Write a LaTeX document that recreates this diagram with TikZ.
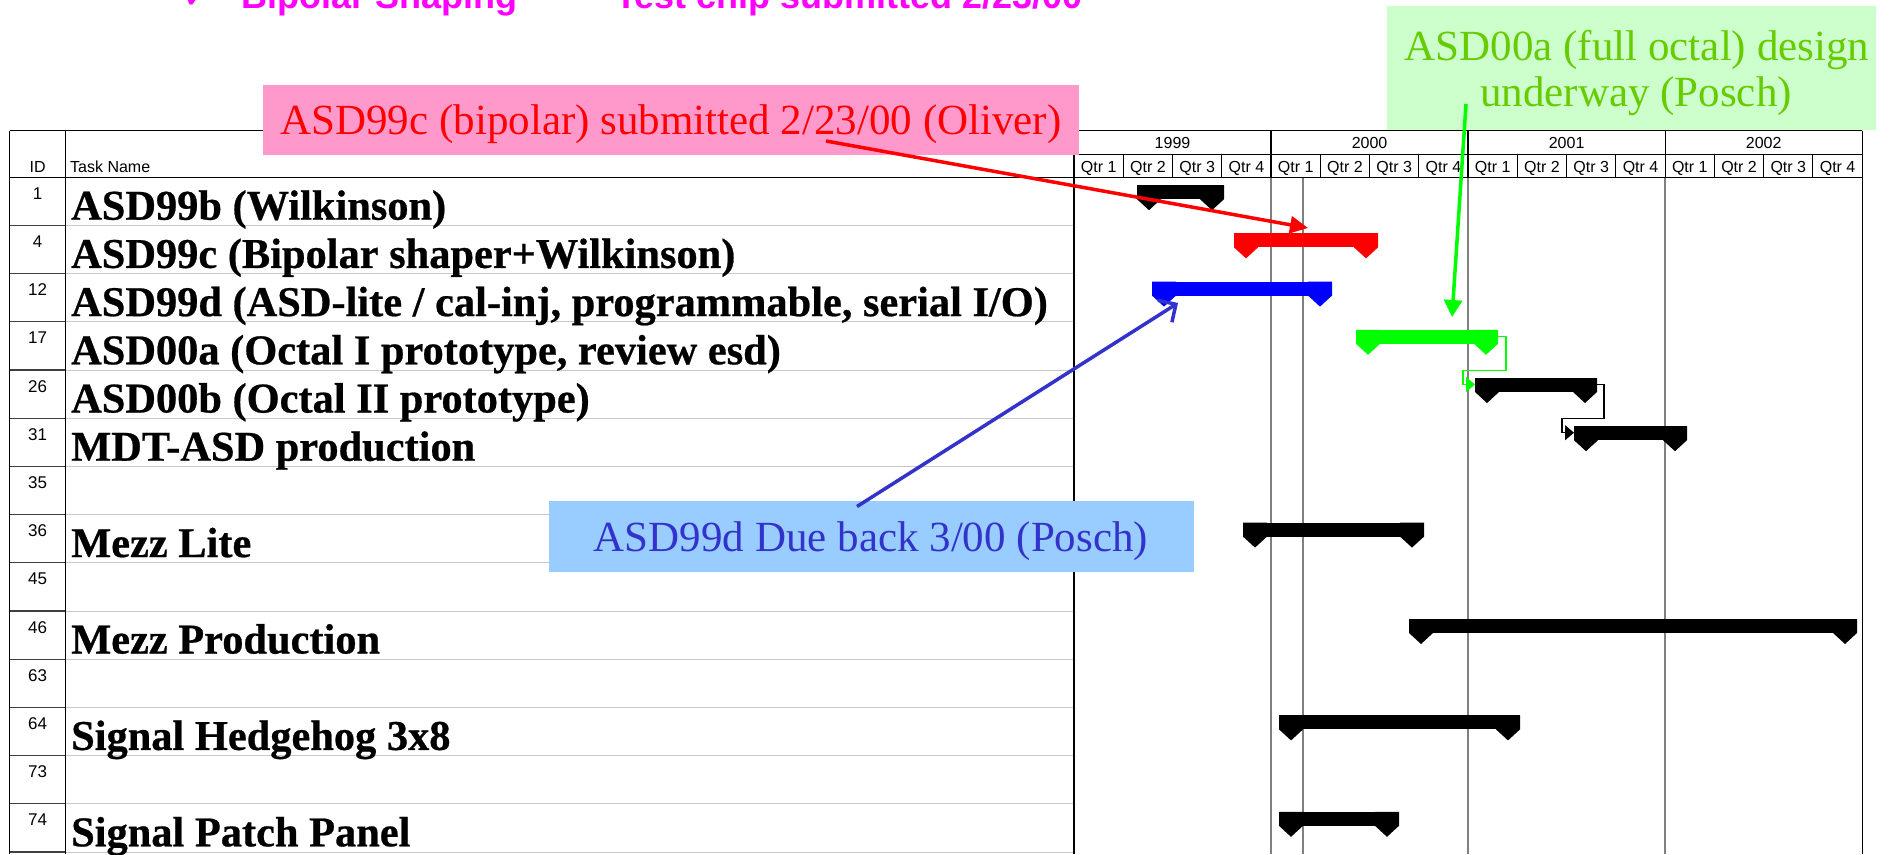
\documentclass[tikz,border=0pt]{standalone}
\usepackage{fontspec}
\setmainfont{Liberation Serif}
\newfontfamily\arialf{Liberation Sans}
\newfontfamily\symf{DejaVu Sans}
\newfontfamily\taskf[BoldFeatures={FakeBold=0.6}]{Liberation Serif}
\usetikzlibrary{arrows.meta,calc}

\definecolor{pinkfill}{HTML}{FF99CC}
\definecolor{greenfill}{HTML}{CCFFCC}
\definecolor{greentext}{HTML}{66CC00}
\definecolor{bluefill}{HTML}{99CCFF}
\definecolor{bluetext}{HTML}{3333CC}
\definecolor{gridgray}{HTML}{808080}
\definecolor{rowgray}{HTML}{C8C8C8}
\definecolor{darkline}{HTML}{404040}
\definecolor{gred}{HTML}{FF0000}
\definecolor{gblue}{HTML}{0000FF}
\definecolor{ggreen}{HTML}{00FF00}
\definecolor{gblack}{HTML}{000000}
\definecolor{headmag}{HTML}{FF00FF}

% Gantt bar with a down-pointing marker at each end.
% #1 row, #2 start x, #3 end x, #4 colour, #5 name
\newcommand\ganttbar[5]{%
  \pgfmathsetmacro\gbT{177.2+48.2*(#1-1)+8}%
  \pgfmathsetmacro\gbB{\gbT+14}%
  \pgfmathsetmacro\gbP{\gbT+25}%
  \pgfmathsetmacro\gbM{\gbT+6.5}%
  \fill[#4] (#2,\gbT) rectangle (#3,\gbB);
  \fill[#4] (#2,\gbT) -- ({#2+24},\gbT) -- ({#2+24},\gbB) -- ({#2+12},\gbP) -- (#2,\gbB) -- cycle;
  \fill[#4] ({#3-24},\gbT) -- (#3,\gbT) -- (#3,\gbB) -- ({#3-12},\gbP) -- ({#3-24},\gbB) -- cycle;
  \coordinate (#5-s) at (#2,\gbM);
  \coordinate (#5-e) at (#3,\gbM);
}

\begin{document}
\begin{tikzpicture}[x=1pt,y=-1pt,
  idtext/.style={font=\arialf\fontsize{17}{20}\selectfont, anchor=base, inner sep=0pt},
  hdrtext/.style={font=\arialf\fontsize{16}{19}\selectfont, anchor=base, inner sep=0pt},
  tasktext/.style={font=\taskf\fontsize{42.4}{48}\selectfont\bfseries, anchor=base west, inner sep=0pt},
  calltext/.style={font=\fontsize{43}{46}\selectfont, inner sep=0pt, outer sep=0pt},
  headline/.style={font=\arialf\bfseries\fontsize{36}{40}\selectfont, text=headmag, anchor=base west, inner sep=0pt},
  frame/.style={line width=1.3pt, draw=gblack},
  dark/.style={line width=1.2pt, draw=darkline},
  grid/.style={line width=1.5pt, draw=gridgray},
  rowline/.style={line width=1pt, draw=rowgray},
  callarrow/.style={line width=3.5pt},
  link/.style={line width=1.2pt},
]
\useasboundingbox (0,0) rectangle (1890,854);
\clip (0,0) rectangle (1890,854);

% heading line running off the top edge
\node[headline] (hcheck) at (182,8) {\symf ✓};
\node[headline] (hshape) at (241,8) {Bipolar Shaping};
\node[headline] (hchip) at (615,8) {Test chip submitted 2/23/00};

% row separators
\foreach \k in {1,...,14} {
  \draw[rowline] (65.7,{177.2+48.2*\k}) -- (1074,{177.2+48.2*\k});
  \draw[dark] (9.6,{177.2+48.2*\k}) -- (65.7,{177.2+48.2*\k});
}

% timescale grid in the chart body
\foreach \x in {1271.05,1468.1,1665.15} \draw[grid] (\x,177.2) -- (\x,854);
\draw[grid] (1303,177.2) -- (1303,854);

% table frame and header
\draw[frame] (9.6,130.5) -- (1862.2,130.5);
\draw[frame] (9.6,177.2) -- (1862.2,177.2);
\draw[frame] (1074,154.3) -- (1862.2,154.3);
\draw[frame] (9.6,130.5) -- (9.6,854);
\draw[frame] (65.7,130.5) -- (65.7,854);
\draw[frame] (1074,130.5) -- (1074,854);
\draw[frame] (1862.2,130.5) -- (1862.2,854);
\foreach \x in {1271.05,1468.1,1665.15} \draw[frame] (\x,130.5) -- (\x,177.2);
\foreach \k in {1,...,15} {
  \pgfmathtruncatemacro\qm{mod(\k,4)}
  \ifnum\qm>0 \draw[frame, line width=1pt] ({1074+49.2625*\k},154.3) -- ({1074+49.2625*\k},177.2); \fi
}

\node[hdrtext] (hid) at (37.6,172) {ID};
\node[hdrtext, anchor=base west] (hname) at (70,172) {Task Name};
\foreach \y [count=\j from 0] in {1999,2000,2001,2002}
  \node[hdrtext] (yr\y) at ({1074+197.05*(\j+0.5)},148) {\y};
\foreach \k in {0,...,15} {
  \pgfmathtruncatemacro\qn{mod(\k,4)+1}
  \node[hdrtext] (q\k) at ({1074+49.2625*(\k+0.5)},172) {Qtr \qn};
}

% IDs and task names
\foreach \i/\n in {1/1,2/4,3/12,4/17,5/26,6/31,7/35,8/36,9/45,10/46,11/63,12/64,13/73,14/74}
  \node[idtext] (id\n) at (37.6,{177.2+48.2*(\i-1)+22}) {\n};

\foreach \i/\t in {1/{ASD99b (Wilkinson)},2/{ASD99c (Bipolar shaper+Wilkinson)},3/{ASD99d (ASD-lite / cal-inj, programmable, serial I/O)},4/{ASD00a (Octal I prototype, review esd)},5/{ASD00b (Octal II prototype)},6/{MDT-ASD production},8/{Mezz Lite},10/{Mezz Production},12/{Signal Hedgehog 3x8},14/{Signal Patch Panel}}
  \node[tasktext] (task\i) at (71,{177.2+48.2*(\i-1)+42.5}) {\t};

% bars
\ganttbar{1}{1137}{1224}{gblack}{b1}
\ganttbar{2}{1234}{1378}{gred}{b2}
\ganttbar{3}{1152}{1332}{gblue}{b3}
\ganttbar{4}{1356}{1498}{ggreen}{b4}
\ganttbar{5}{1475}{1597}{gblack}{b5}
\ganttbar{6}{1574}{1687}{gblack}{b6}
\ganttbar{8}{1243}{1424}{gblack}{b8}
\ganttbar{10}{1409}{1857}{gblack}{b10}
\ganttbar{12}{1279}{1520}{gblack}{b12}
\ganttbar{14}{1279}{1399}{gblack}{b14}

% finish-to-start links
\draw[link, draw=ggreen, -{Triangle[length=9pt,width=15pt]}]
  (b4-e) -- ++(8,0) -- ++(0,34.1) -| ($(b5-s)+(-12,0)$) -- (b5-s);
\draw[link, draw=gblack, -{Triangle[length=9pt,width=15pt]}]
  (b5-e) -- ++(7,0) -- ++(0,33.7) -| ($(b6-s)+(-12,0)$) -- (b6-s);

% callouts
\node[calltext, fill=pinkfill, text=gred, minimum width=816pt, minimum height=70pt,
      text height=30pt, text depth=0pt] (cpink) at (671,119.5)
  {ASD99c (bipolar) submitted 2/23/00 (Oliver)};
\node[fill=greenfill, minimum width=489pt, minimum height=124pt, inner sep=0pt] (cgreen) at (1631.5,68) {};
\node[calltext, text=greentext, anchor=base] (cgreen1) at (1637,60.5) {ASD00a (full octal) design};
\node[calltext, text=greentext, anchor=base] (cgreen2) at (1636,106) {underway (Posch)};
\node[calltext, fill=bluefill, text=bluetext, minimum width=645pt, minimum height=71pt,
      text height=30pt, text depth=0pt] (cblue) at (871,536)
  {ASD99d Due back 3/00 (Posch)};

% callout pointers
\coordinate (redfrom) at ($(cpink.south)+(155,-13.5)$);
\coordinate (redto) at (1308,228);
\coordinate (bluefrom) at ($(cblue.north)+(-14,6)$);
\coordinate (blueto) at (1178,303);
\coordinate (greenfrom) at (1466,104);
\coordinate (greento) at (1452,317);
\draw[callarrow, draw=gred, -{Triangle[length=18pt,width=17pt]}] (redfrom) -- (redto);
\draw[callarrow, draw=bluetext, -{Straight Barb[length=13pt,width=26pt]}] (bluefrom) -- (blueto);
\draw[callarrow, draw=ggreen, -{Triangle[length=17pt,width=18pt]}] (greenfrom) -- (greento);
\end{tikzpicture}
\end{document}
